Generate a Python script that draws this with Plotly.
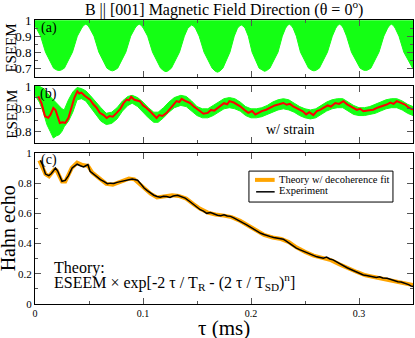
"""
ESEEM / Hahn echo decay for B || [001] - three stacked panels
(a) ESEEM, (b) ESEEM with strain, (c) Hahn echo theory vs experiment
"""

import plotly.graph_objects as go

# ---- panel (a): ESEEM, fast oscillation drawn as a band (lower envelope) ----
tau_a = [0.000, 0.0012, 0.0052, 0.0097, 0.0172, 0.0202, 0.0222, 0.0242, 0.0272, 0.0347, 0.0392, 0.0432, 0.0450, 0.0470,
         0.0490, 0.0506, 0.0546, 0.0591, 0.0666, 0.0696, 0.0716, 0.0736, 0.0766, 0.0841, 0.0886, 0.0926, 0.0945, 0.0965,
         0.0985, 0.1003, 0.1043, 0.1088, 0.1163, 0.1193, 0.1213, 0.1233, 0.1263, 0.1338, 0.1383, 0.1415, 0.1432, 0.1450,
         0.1468, 0.1485, 0.1520, 0.1565, 0.1640, 0.1670, 0.1690, 0.1710, 0.1740, 0.1805, 0.1845, 0.1875, 0.1893, 0.1910,
         0.1927, 0.1945, 0.1975, 0.2010, 0.2075, 0.2105, 0.2125, 0.2145, 0.2175, 0.2250, 0.2290, 0.2320, 0.2338, 0.2355,
         0.2372, 0.2390, 0.2420, 0.2458, 0.2533, 0.2563, 0.2583, 0.2603, 0.2633, 0.2708, 0.2753, 0.2785, 0.2802, 0.2820,
         0.2838, 0.2855, 0.2885, 0.2930, 0.3010, 0.3040, 0.3060, 0.3080, 0.3110, 0.3185, 0.3230, 0.3265, 0.3283, 0.3300,
         0.3318, 0.3335, 0.3370, 0.3415, 0.3490, 0.3500]
env_a = [0.965, 0.950, 0.900, 0.800, 0.700, 0.688, 0.685, 0.688, 0.700, 0.800, 0.900, 0.950, 0.967, 0.975,
         0.967, 0.950, 0.900, 0.800, 0.700, 0.687, 0.683, 0.687, 0.700, 0.800, 0.900, 0.950, 0.967, 0.975,
         0.967, 0.950, 0.900, 0.800, 0.700, 0.683, 0.678, 0.683, 0.700, 0.800, 0.900, 0.950, 0.963, 0.970,
         0.963, 0.950, 0.900, 0.800, 0.700, 0.680, 0.675, 0.680, 0.700, 0.800, 0.900, 0.950, 0.963, 0.970,
         0.963, 0.950, 0.900, 0.800, 0.700, 0.685, 0.680, 0.685, 0.700, 0.800, 0.900, 0.950, 0.967, 0.975,
         0.967, 0.950, 0.900, 0.800, 0.700, 0.687, 0.683, 0.687, 0.700, 0.800, 0.900, 0.950, 0.967, 0.975,
         0.967, 0.950, 0.900, 0.800, 0.700, 0.688, 0.685, 0.688, 0.700, 0.800, 0.900, 0.950, 0.967, 0.975,
         0.967, 0.950, 0.900, 0.800, 0.700, 0.695]
tau_a_top = [0.0, 0.35]
top_a = [1.0, 1.0]

# ---- panel (b): ESEEM w/ strain, green band + red average ----
tau_bg = [0.000, 0.004, 0.008, 0.011, 0.014, 0.017, 0.020, 0.0225, 0.025, 0.027,
          0.031, 0.035, 0.039, 0.043, 0.047, 0.051, 0.056, 0.061, 0.066, 0.071,
          0.076, 0.081, 0.086, 0.090, 0.095, 0.100, 0.105, 0.110, 0.114, 0.119,
          0.124, 0.129, 0.135, 0.140, 0.145, 0.150, 0.155, 0.160, 0.165, 0.170,
          0.175, 0.180, 0.185, 0.190, 0.195, 0.200, 0.205, 0.210, 0.215, 0.220,
          0.225, 0.230, 0.235, 0.240, 0.245, 0.250, 0.255, 0.260, 0.265, 0.270,
          0.275, 0.280, 0.285, 0.290, 0.295, 0.300, 0.305, 0.310, 0.315, 0.320,
          0.325, 0.330, 0.335, 0.340, 0.345, 0.350]
green_hi = [1.0, 1.0, 0.99, 0.97, 0.955, 0.94, 0.925, 0.91, 0.90, 0.895,
            0.94, 0.975, 0.995, 0.99, 0.98, 0.96, 0.93, 0.905, 0.88, 0.885,
            0.905, 0.935, 0.955, 0.96, 0.95, 0.93, 0.905, 0.885, 0.885, 0.905,
            0.93, 0.95, 0.96, 0.955, 0.935, 0.91, 0.90, 0.90, 0.915, 0.93,
            0.945, 0.95, 0.945, 0.93, 0.91, 0.90, 0.90, 0.905, 0.915, 0.93,
            0.94, 0.945, 0.94, 0.925, 0.91, 0.90, 0.895, 0.90, 0.915, 0.93,
            0.94, 0.945, 0.945, 0.93, 0.915, 0.905, 0.905, 0.91, 0.92, 0.93,
            0.94, 0.945, 0.945, 0.935, 0.92, 0.91]
green_lo = [0.96, 0.93, 0.88, 0.83, 0.80, 0.77, 0.78, 0.785, 0.80, 0.82,
            0.845, 0.885, 0.94, 0.945, 0.935, 0.91, 0.875, 0.845, 0.83, 0.835,
            0.855, 0.89, 0.915, 0.925, 0.91, 0.885, 0.86, 0.84, 0.84, 0.86,
            0.885, 0.905, 0.915, 0.91, 0.89, 0.87, 0.86, 0.86, 0.87, 0.885,
            0.90, 0.905, 0.90, 0.89, 0.87, 0.86, 0.86, 0.865, 0.875, 0.885,
            0.895, 0.90, 0.895, 0.885, 0.87, 0.86, 0.855, 0.86, 0.875, 0.89,
            0.90, 0.905, 0.905, 0.89, 0.875, 0.87, 0.87, 0.875, 0.88, 0.89,
            0.90, 0.905, 0.905, 0.895, 0.88, 0.87]

tau_b = [0.003, 0.006, 0.0093, 0.0123, 0.0145, 0.017, 0.019, 0.0216, 0.023, 0.0255,
         0.028, 0.031, 0.034, 0.0365, 0.0392, 0.041, 0.043, 0.046, 0.051, 0.054,
         0.057, 0.060, 0.0635, 0.0664, 0.069, 0.072, 0.0756, 0.079, 0.082, 0.0849,
         0.087, 0.089, 0.092, 0.097, 0.100, 0.103, 0.1065, 0.109, 0.1126, 0.115,
         0.118, 0.1219, 0.125, 0.128, 0.131, 0.1335, 0.1358, 0.139, 0.1435, 0.147,
         0.150, 0.1528, 0.156, 0.160, 0.163, 0.166, 0.171, 0.175, 0.178, 0.180,
         0.184, 0.187, 0.190, 0.194, 0.1975, 0.201, 0.204, 0.207, 0.210, 0.214,
         0.218, 0.222, 0.226, 0.230, 0.233, 0.236, 0.239, 0.243, 0.248, 0.251,
         0.254, 0.2577, 0.261, 0.264, 0.267, 0.271, 0.274, 0.278, 0.2815, 0.2855,
         0.289, 0.2947, 0.298, 0.301, 0.304, 0.308, 0.3132, 0.317, 0.321, 0.3256,
         0.329, 0.332, 0.335, 0.339, 0.3426, 0.346, 0.350]
red_b = [0.956, 0.925, 0.867, 0.86, 0.875, 0.904, 0.895, 0.86, 0.837, 0.84,
         0.837, 0.86, 0.905, 0.95, 0.978, 0.968, 0.972, 0.958, 0.941, 0.92,
         0.905, 0.882, 0.872, 0.859, 0.868, 0.865, 0.882, 0.90, 0.925, 0.941,
         0.938, 0.953, 0.94, 0.934, 0.915, 0.905, 0.889, 0.875, 0.859, 0.872,
         0.868, 0.882, 0.90, 0.918, 0.934, 0.93, 0.944, 0.935, 0.926, 0.91,
         0.90, 0.889, 0.878, 0.882, 0.895, 0.892, 0.911, 0.925, 0.92, 0.934,
         0.928, 0.92, 0.911, 0.895, 0.882, 0.89, 0.875, 0.882, 0.89, 0.896,
         0.905, 0.915, 0.92, 0.926, 0.918, 0.922, 0.911, 0.90, 0.889, 0.875,
         0.885, 0.872, 0.89, 0.895, 0.904, 0.915, 0.91, 0.926, 0.922, 0.934,
         0.92, 0.904, 0.895, 0.90, 0.889, 0.892, 0.896, 0.905, 0.91, 0.919,
         0.928, 0.922, 0.934, 0.925, 0.919, 0.905, 0.896]

# ---- panel (c): Hahn echo ----
tau_exp = [0.005, 0.007, 0.0097, 0.0128, 0.015, 0.0175, 0.019, 0.021, 0.023, 0.025,
           0.028, 0.031, 0.0344, 0.037, 0.039, 0.042, 0.045, 0.047, 0.049, 0.051,
           0.054, 0.057, 0.0606, 0.064, 0.067, 0.070, 0.073, 0.076, 0.079, 0.082,
           0.085, 0.088, 0.090, 0.093, 0.095, 0.098, 0.101, 0.104, 0.107, 0.110,
           0.113, 0.116, 0.119, 0.122, 0.125, 0.128, 0.132, 0.135, 0.139, 0.143,
           0.147, 0.150, 0.153, 0.156, 0.159, 0.1625, 0.166, 0.169, 0.172, 0.175,
           0.178, 0.181, 0.184, 0.187, 0.190, 0.193, 0.196, 0.199, 0.202, 0.206,
           0.209, 0.212, 0.215, 0.218, 0.221, 0.224, 0.227, 0.230, 0.232, 0.235,
           0.237, 0.239, 0.242, 0.245, 0.249, 0.252, 0.255, 0.258, 0.261, 0.264,
           0.267, 0.270, 0.273, 0.276, 0.279, 0.282, 0.286, 0.289, 0.292, 0.295,
           0.298, 0.301, 0.304, 0.307, 0.310, 0.313, 0.316, 0.319, 0.322, 0.326,
           0.329, 0.332, 0.336, 0.339, 0.343, 0.346, 0.348, 0.350]
echo_exp = [0.951, 0.92, 0.86, 0.85, 0.862, 0.889, 0.90, 0.88, 0.84, 0.812,
            0.818, 0.85, 0.90, 0.915, 0.925, 0.915, 0.907, 0.915, 0.923, 0.878,
            0.86, 0.84, 0.823, 0.81, 0.796, 0.80, 0.798, 0.805, 0.81, 0.816,
            0.818, 0.825, 0.827, 0.822, 0.819, 0.795, 0.768, 0.75, 0.734, 0.72,
            0.712, 0.706, 0.713, 0.712, 0.705, 0.715, 0.719, 0.712, 0.701, 0.68,
            0.657, 0.64, 0.624, 0.615, 0.60, 0.606, 0.595, 0.588, 0.584, 0.59,
            0.582, 0.58, 0.57, 0.557, 0.545, 0.535, 0.524, 0.51, 0.495, 0.48,
            0.468, 0.46, 0.451, 0.446, 0.44, 0.436, 0.432, 0.428, 0.42, 0.405,
            0.392, 0.38, 0.37, 0.36, 0.347, 0.338, 0.328, 0.319, 0.312, 0.308,
            0.303, 0.31, 0.298, 0.292, 0.28, 0.265, 0.248, 0.24, 0.23, 0.221,
            0.212, 0.20, 0.192, 0.188, 0.182, 0.177, 0.175, 0.18, 0.172, 0.17,
            0.162, 0.155, 0.148, 0.145, 0.137, 0.128, 0.12, 0.115]

tau_th = [0.004, 0.0097, 0.013, 0.018, 0.020, 0.025, 0.028, 0.034, 0.039, 0.044,
          0.049, 0.053, 0.060, 0.066, 0.072, 0.080, 0.087, 0.092, 0.100, 0.107,
          0.113, 0.120, 0.127, 0.133, 0.140, 0.147, 0.153, 0.160, 0.167, 0.175,
          0.182, 0.190, 0.197, 0.204, 0.212, 0.220, 0.228, 0.235, 0.242, 0.250,
          0.258, 0.266, 0.274, 0.282, 0.290, 0.298, 0.306, 0.314, 0.322, 0.330,
          0.338, 0.345, 0.350]
echo_th = [0.95, 0.86, 0.845, 0.89, 0.885, 0.81, 0.81, 0.90, 0.935, 0.92,
           0.915, 0.87, 0.83, 0.795, 0.79, 0.81, 0.83, 0.825, 0.775, 0.73,
           0.705, 0.71, 0.72, 0.715, 0.698, 0.66, 0.63, 0.605, 0.592, 0.585,
           0.575, 0.55, 0.52, 0.485, 0.458, 0.44, 0.43, 0.41, 0.375, 0.345,
           0.32, 0.305, 0.29, 0.262, 0.235, 0.212, 0.19, 0.178, 0.172, 0.16,
           0.145, 0.132, 0.125]

legend_names = ["Theory w/ decoherence fit", "Experiment"]

SERIF = '"Liberation Serif", "Times New Roman", Times, "DejaVu Serif", serif'
GREEN = "#14ff14"
ORANGE = "#ffa500"

fig = go.Figure()

# (a)
fig.add_trace(go.Scatter(x=tau_a_top, y=top_a, mode="lines", line=dict(width=0, color=GREEN),
                         showlegend=False, hoverinfo="skip", xaxis="x", yaxis="y"))
fig.add_trace(go.Scatter(x=tau_a, y=env_a, mode="lines", fill="tonexty", fillcolor=GREEN,
                         line=dict(width=1, color=GREEN), showlegend=False, name="ESEEM",
                         xaxis="x", yaxis="y"))

# (b)
fig.add_trace(go.Scatter(x=tau_bg, y=green_hi, mode="lines", line=dict(width=1, color=GREEN),
                         showlegend=False, hoverinfo="skip", xaxis="x2", yaxis="y2"))
fig.add_trace(go.Scatter(x=tau_bg, y=green_lo, mode="lines", fill="tonexty", fillcolor=GREEN,
                         line=dict(width=1, color=GREEN), showlegend=False,
                         xaxis="x2", yaxis="y2"))
fig.add_trace(go.Scatter(x=tau_b, y=red_b, mode="lines", line=dict(width=2, color="#ff0000"),
                         showlegend=False, xaxis="x2", yaxis="y2"))

# (c)
fig.add_trace(go.Scatter(x=tau_th, y=echo_th, mode="lines", name=legend_names[0], showlegend=False,
                         line=dict(width=4, color=ORANGE), xaxis="x3", yaxis="y3"))
fig.add_trace(go.Scatter(x=tau_exp, y=echo_exp, mode="lines", name=legend_names[1], showlegend=False,
                         line=dict(width=1.5, color="black"), xaxis="x3", yaxis="y3"))

tick_common = dict(showline=True, linecolor="black", linewidth=1, mirror="allticks",
                   ticks="inside", ticklen=6, tickcolor="#555", showgrid=False, zeroline=False)

xbase = dict(range=[0, 0.35], tick0=0, dtick=0.1,
             minor=dict(ticks="inside", ticklen=3, dtick=0.05, tickcolor="#555"), **tick_common)

fig.update_layout(
    width=415, height=338,
    margin=dict(l=35, r=2, t=20, b=34),
    paper_bgcolor="white", plot_bgcolor="white",
    font=dict(family=SERIF, color="black"),
    showlegend=False,
    title=dict(text="B || [001] Magnetic Field Direction (θ = 0<sup>o</sup>)",
               x=0.54, xanchor="center", y=0.972, yanchor="middle",
               font=dict(family=SERIF, size=16)),
    xaxis=dict(domain=[0, 1], anchor="y", showticklabels=False, **xbase),
    xaxis2=dict(domain=[0, 1], anchor="y2", showticklabels=False, **xbase),
    xaxis3=dict(domain=[0, 1], anchor="y3", showticklabels=True,
                tickfont=dict(family=SERIF, size=10), **xbase),
    yaxis=dict(domain=[0.799, 1.0], anchor="x", range=[0.644, 1.001], tick0=0, dtick=0.1,
               tickfont=dict(family=SERIF, size=13),
               minor=dict(ticks="inside", ticklen=3, dtick=0.05, tickcolor="#555"), **tick_common),
    yaxis2=dict(domain=[0.567, 0.768], anchor="x2", range=[0.748, 1.002], tick0=0, dtick=0.1,
                tickfont=dict(family=SERIF, size=13),
                minor=dict(ticks="inside", ticklen=3, dtick=0.05, tickcolor="#555"), **tick_common),
    yaxis3=dict(domain=[0, 0.532], anchor="x3", range=[0, 1.0], tick0=0, dtick=0.2,
                tickfont=dict(family=SERIF, size=11),
                minor=dict(ticks="inside", ticklen=3, dtick=0.1, tickcolor="#555"), **tick_common),
)

# legend box for panel (c), drawn in paper coordinates
lx0, lx1, ly0, ly1 = 0.566, 0.947, 0.359, 0.468
fig.add_shape(type="rect", xref="paper", yref="paper", x0=lx0, x1=lx1, y0=ly0, y1=ly1,
              line=dict(color="black", width=1), fillcolor="white", layer="above")
fig.add_shape(type="line", xref="paper", yref="paper", x0=0.582, x1=0.634, y0=0.437, y1=0.437,
              line=dict(color=ORANGE, width=4), layer="above")
fig.add_shape(type="line", xref="paper", yref="paper", x0=0.585, x1=0.634, y0=0.395, y1=0.395,
              line=dict(color="black", width=1.5), layer="above")

ann_font = dict(family=SERIF, size=14, color="black")
annotations = [
    dict(text="ESEEM", x=-0.063, y=0.9, textangle=-90, font=dict(family=SERIF, size=15)),
    dict(text="ESEEM", x=-0.063, y=0.667, textangle=-90, font=dict(family=SERIF, size=15)),
    dict(text="Hahn echo", x=-0.069, y=0.266, textangle=-90, font=dict(family=SERIF, size=20)),
    dict(text="τ (ms)", x=0.5, y=-0.0845, font=dict(family=SERIF, size=21)),
    dict(text="(a)", x=0.036, y=0.973, font=ann_font),
    dict(text="(b)", x=0.036, y=0.739, font=ann_font),
    dict(text="(c)", x=0.036, y=0.507, font=ann_font),
    dict(text="w/ strain", x=0.677, y=0.616, font=ann_font),
    dict(text="Theory:", x=0.045, y=0.127, xanchor="left",
         font=dict(family=SERIF, size=16)),
    dict(text="ESEEM × exp[-2 τ / T<sub>R</sub> - (2 τ / T<sub>SD</sub>)<sup>n</sup>]",
         x=0.045, y=0.078, xanchor="left", font=dict(family=SERIF, size=16)),
    dict(text=legend_names[0], x=0.641, y=0.440, xanchor="left", font=dict(family=SERIF, size=10.5)),
    dict(text=legend_names[1], x=0.641, y=0.398, xanchor="left", font=dict(family=SERIF, size=10.5)),
]
for a in annotations:
    a.setdefault("xanchor", "center")
    fig.add_annotation(xref="paper", yref="paper", yanchor="middle", showarrow=False, **a)

# page body has a default 8px margin; drop it so the figure sits at the window origin
fig.write_html("out.html", config={"displayModeBar": False},
               post_script="document.body.style.margin = '0';")
